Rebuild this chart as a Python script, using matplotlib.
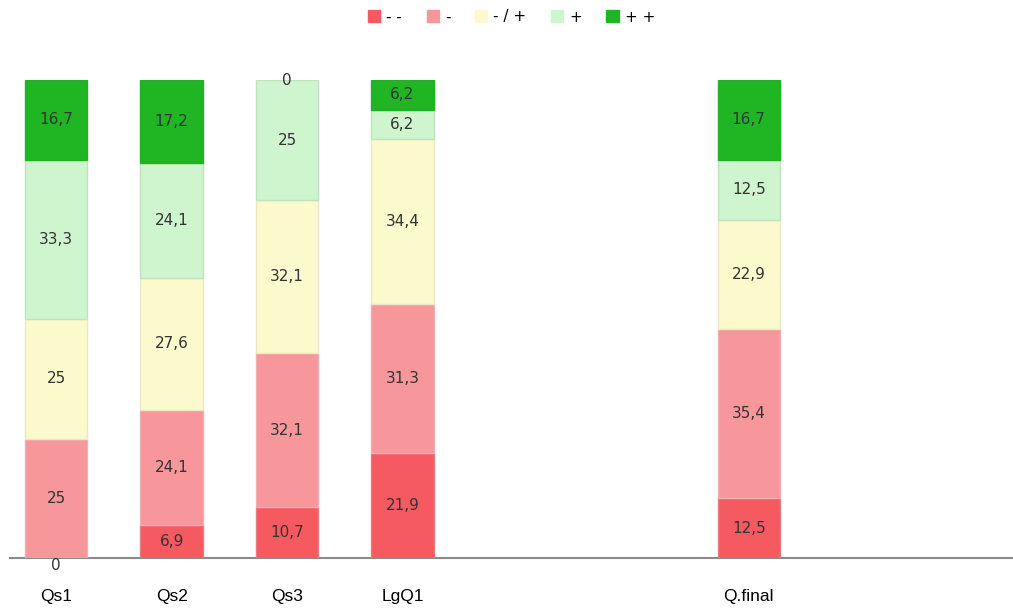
import numpy as np
import matplotlib.pyplot as plt
from matplotlib.patches import Patch

categories = ['Qs1', 'Qs2', 'Qs3', 'LgQ1', '', '', 'Q.final', '', '']
series_names = ['- -', '-', '- / +', '+', '+ +']
# values per category, bottom to top (blank categories are empty)
very_neg = [0, 6.9, 10.7, 21.9, None, None, 12.5, None, None]
neg = [25, 24.1, 32.1, 31.3, None, None, 35.4, None, None]
neutral = [25, 27.6, 32.1, 34.4, None, None, 22.9, None, None]
pos = [33.3, 24.1, 25, 6.2, None, None, 12.5, None, None]
very_pos = [16.7, 17.2, 0, 6.2, None, None, 16.7, None, None]

colors = ['#f45a60', '#f7979c', '#fcf9cd', '#cff5cf', '#1fb523']
edges = ['#ec7b80', '#eeb0b3', '#ebe8c4', '#bfe3bf', '#22b026']

fig = plt.figure(figsize=(10.13, 6.16), dpi=100)
ax = fig.add_axes([10/1013, 58/616, 1003/1013, 478/616])

x = np.arange(len(categories))
bottom = np.zeros(len(categories))
for vals, c, ec, name in zip([very_neg, neg, neutral, pos, very_pos], colors, edges, series_names):
    for i, v in enumerate(vals):
        if v is None:
            continue
        if v > 0:
            ax.bar(x[i], v, bottom=bottom[i], width=0.54, color=c, edgecolor=ec, lw=1)
        yl = bottom[i] + v / 2
        if v == 0 and bottom[i] == 0:
            yl = -1.5
        ax.text(x[i], yl, ('%g' % v).replace('.', ','),
                ha='center', va='center', fontsize=11, color='#333333',
                family='DejaVu Sans', clip_on=False)
        bottom[i] += v

ax.set_xlim(-0.4, 8.29)
ax.set_ylim(0, 100)
ax.set_xticks(x)
ax.set_xticklabels(categories, fontsize=12.5, family='Liberation Sans')
ax.tick_params(axis='x', length=0, pad=22)
ax.set_yticks([])
for s in ['top', 'right', 'left']:
    ax.spines[s].set_visible(False)
ax.spines['bottom'].set_color('#8a8a8a')
ax.spines['bottom'].set_linewidth(1.5)
ax.spines['bottom'].set_zorder(0.5)

handles = [Patch(facecolor=c, edgecolor=c) for c in colors]
fig.legend(handles, series_names, loc='center', bbox_to_anchor=(0.505, 1 - 17/616),
           ncol=5, frameon=False, fontsize=11, handlelength=0.8, handleheight=0.8,
           handletextpad=0.4, columnspacing=1.6)

fig.savefig('out.png', dpi=100)
